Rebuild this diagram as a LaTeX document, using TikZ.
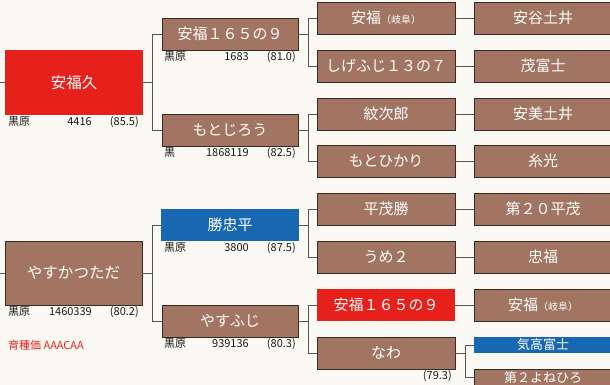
\documentclass[tikz,border=0pt]{standalone}
\usepackage{fontspec}
\setmainfont{Noto Sans CJK JP}
\definecolor{bgc}{HTML}{FBF9F3}
\definecolor{brownc}{HTML}{A27562}
\definecolor{edgec}{HTML}{3A2A22}
\definecolor{redc}{HTML}{E6201A}
\definecolor{bluec}{HTML}{1767B1}
\definecolor{linec}{HTML}{555555}
\tikzset{
  pbox/.style={rectangle, draw=edgec, line width=0.9pt, fill=brownc, text=white, inner sep=0pt, minimum width=138pt, minimum height=32pt, font=\fontsize{15}{15}\selectfont},
  redbox/.style={pbox, draw=none, fill=redc},
  bluebox/.style={pbox, draw=none, fill=bluec},
  bigbox/.style={minimum width=138pt, minimum height=65pt, font=\fontsize{15.5}{15.5}\selectfont},
  halfbox/.style={minimum height=16pt, font=\fontsize{13}{13}\selectfont},
  lab/.style={inner sep=0pt, text=black!90, font=\fontsize{11}{11}\selectfont},
  conn/.style={draw=linec, line width=0.8pt},
}
\newcommand{\gifu}{{\fontsize{10}{10}\selectfont（岐阜）}}
\begin{document}
\begin{tikzpicture}[x=1pt,y=-1pt]
\useasboundingbox (0,0) rectangle (610,385);
\fill[bgc] (0,0) rectangle (610,385);
\clip (0,0) rectangle (610,385);
% generation 1
\node[redbox,bigbox] (g1a) at (74,82.5) {安福久};
\node[pbox,bigbox,minimum width=137pt,minimum height=64pt] (g1b) at (73.5,273) {やすかつただ};
\coordinate (s1) at (0,82.5);
\coordinate (s2) at (0,273);
% generation 2
\node[pbox,minimum width=136pt] (g2a) at (230,34) {安福１６５の９};
\node[pbox,minimum width=136pt] (g2b) at (230,130) {もとじろう};
\node[bluebox] (g2c) at (230,225) {勝忠平};
\node[pbox,minimum width=136pt] (g2d) at (230,321) {やすふじ};
% generation 3
\node[pbox] (g3a) at (386,18) {安福\gifu};
\node[pbox] (g3b) at (386,66) {しげふじ１３の７};
\node[pbox] (g3c) at (386,114) {紋次郎};
\node[pbox] (g3d) at (386,161) {もとひかり};
\node[pbox] (g3e) at (386,209) {平茂勝};
\node[pbox] (g3f) at (386,257) {うめ２};
\node[redbox] (g3g) at (386,305) {安福１６５の９};
\node[pbox] (g3h) at (386,353) {なわ};
% generation 4
\node[pbox] (g4a) at (543,18) {安谷土井};
\node[pbox] (g4b) at (543,66) {茂富士};
\node[pbox] (g4c) at (543,114) {安美土井};
\node[pbox] (g4d) at (543,161) {糸光};
\node[pbox] (g4e) at (543,209) {第２０平茂};
\node[pbox] (g4f) at (543,257) {忠福};
\node[pbox] (g4g) at (543,305) {安福\gifu};
\node[bluebox,halfbox] (g4h) at (543,345) {気高富士};
\node[pbox,halfbox] (g4i) at (543,377.5) {第２よねひろ};
% connectors
\draw[conn] (s1) -- (g1a.west);
\draw[conn] (s2) -- (g1b.west);
\draw[conn] (g1a.east) -- ++(9,0) |- (g2a.west);
\draw[conn] (g1a.east) -- ++(9,0) |- (g2b.west);
\draw[conn] (g1b.east) -- ++(10,0) |- (g2c.west);
\draw[conn] (g1b.east) -- ++(10,0) |- (g2d.west);
\draw[conn] (g2a.east) -- ++(10,0) |- (g3a.west);
\draw[conn] (g2a.east) -- ++(10,0) |- (g3b.west);
\draw[conn] (g2b.east) -- ++(10,0) |- (g3c.west);
\draw[conn] (g2b.east) -- ++(10,0) |- (g3d.west);
\draw[conn] (g2c.east) -- ++(9,0) |- (g3e.west);
\draw[conn] (g2c.east) -- ++(9,0) |- (g3f.west);
\draw[conn] (g2d.east) -- ++(10,0) |- (g3g.west);
\draw[conn] (g2d.east) -- ++(10,0) |- (g3h.west);
\draw[conn] (g3a) -- (g4a);
\draw[conn] (g3b) -- (g4b);
\draw[conn] (g3c) -- (g4c);
\draw[conn] (g3d) -- (g4d);
\draw[conn] (g3e) -- (g4e);
\draw[conn] (g3f) -- (g4f);
\draw[conn] (g3g) -- (g4g);
\draw[conn] (g3h.east) -- ++(10,0) |- (g4h.west);
\draw[conn] (g3h.east) -- ++(10,0) |- (g4i.west);
% labels
\node[lab,anchor=west] (l1a) at (8,122) {黒原};
\node[lab,anchor=east] (l1b) at (92,122) {4416};
\node[lab,anchor=east] (l1c) at (139,122) {(85.5)};
\node[lab,anchor=west] (l2a) at (8,312) {黒原};
\node[lab,anchor=east] (l2b) at (92,312) {1460339};
\node[lab,anchor=east] (l2c) at (139,312) {(80.2)};
\node[lab,anchor=west,text=redc] (ebv) at (8,345) {育種価 AAACAA};
\node[lab,anchor=west] (l3a) at (164,57) {黒原};
\node[lab,anchor=east] (l3b) at (249,57) {1683};
\node[lab,anchor=east] (l3c) at (296,57) {(81.0)};
\node[lab,anchor=west] (l4a) at (164,153) {黒};
\node[lab,anchor=east] (l4b) at (249,153) {1868119};
\node[lab,anchor=east] (l4c) at (296,153) {(82.5)};
\node[lab,anchor=west] (l5a) at (164,248) {黒原};
\node[lab,anchor=east] (l5b) at (249,248) {3800};
\node[lab,anchor=east] (l5c) at (296,248) {(87.5)};
\node[lab,anchor=west] (l6a) at (164,344) {黒原};
\node[lab,anchor=east] (l6b) at (249,344) {939136};
\node[lab,anchor=east] (l6c) at (296,344) {(80.3)};
\node[lab,anchor=east] (l7c) at (452,376) {(79.3)};
\end{tikzpicture}
\end{document}
